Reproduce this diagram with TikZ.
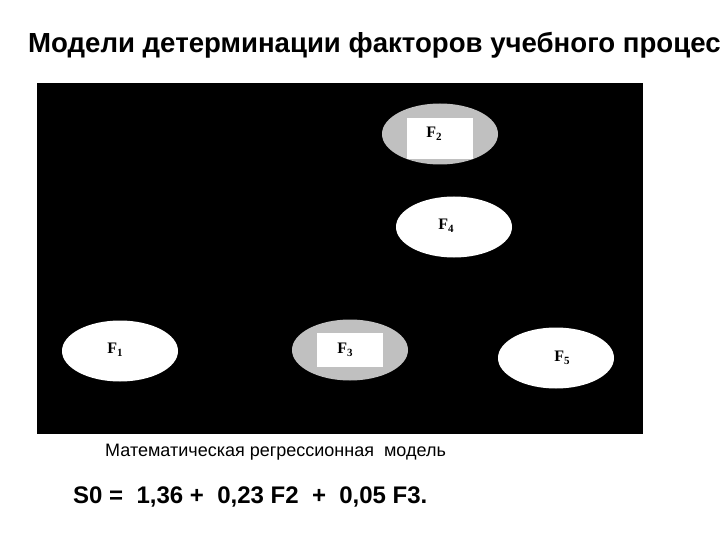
\documentclass[tikz,border=0pt]{standalone}
\usepackage{fontspec}
\setmainfont{Liberation Sans}
\newfontfamily\serifF{Liberation Serif}
\usetikzlibrary{shapes.geometric}
\definecolor{fgray}{RGB}{192,192,192}
\newcommand{\flab}[1]{{\serifF\bfseries\fontsize{16}{17}\selectfont F\raisebox{-3pt}{\fontsize{11}{11}\selectfont #1}}}
\tikzset{
  ell/.style={ellipse, draw=none, minimum width=116pt, minimum height=61pt, inner sep=0pt},
  gell/.style={ell, fill=fgray},
  well/.style={ell, fill=white},
  inbox/.style={fill=white, draw=none, inner sep=0pt},
  flabel/.style={inner sep=0pt, text=black}
}
\begin{document}
\begin{tikzpicture}[x=1pt,y=-1pt]
\useasboundingbox (0,0) rectangle (720,540);
\clip (0,0) rectangle (720,540);
\node[anchor=base west, inner sep=0pt, font=\bfseries\fontsize{27.6}{30}\selectfont] (title) at (28,53) {Модели детерминации факторов учебного процес};
\node[fill=black, draw=none, minimum width=606pt, minimum height=351pt, inner sep=0pt] (panel) at (340,258.5) {};
% F2
\node[gell] (e2) at (440,134) {};
\node[inbox, minimum width=66pt, minimum height=41pt] (b2) at (440,138.5) {};
\node[flabel] (f2) at (434,134) {\flab{2}};
% F4
\node[well] (e4) at (454,227) {};
\node[flabel] (f4) at (446,226) {\flab{4}};
% F1
\node[well] (e1) at (120,351) {};
\node[flabel] (f1) at (115,350) {\flab{1}};
% F3
\node[gell] (e3) at (350,350) {};
\node[inbox, minimum width=66pt, minimum height=34pt] (b3) at (350,350) {};
\node[flabel] (f3) at (345,350) {\flab{3}};
% F5
\node[well] (e5) at (556,358) {};
\node[flabel] (f5) at (562,358) {\flab{5}};
% texts
\node[anchor=base west, inner sep=0pt, font=\fontsize{18}{21}\selectfont] (sub) at (105,456) {Математическая регрессионная\ \ модель};
\node[anchor=base west, inner sep=0pt, font=\bfseries\fontsize{24}{28}\selectfont] (eq) at (73,503) {S0 =\ \ 1,36 +\ \ 0,23 F2\ \ +\ \ 0,05 F3.};
\end{tikzpicture}
\end{document}
